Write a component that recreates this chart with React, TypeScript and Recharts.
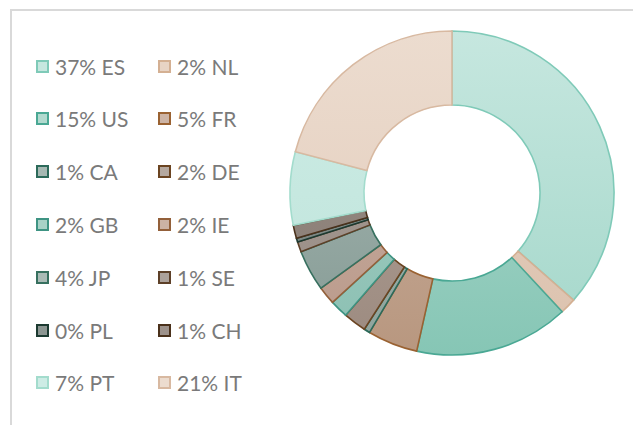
import { Cell, Pie, PieChart } from 'recharts';

const countries = ['ES', 'NL', 'US', 'FR', 'CA', 'DE', 'GB', 'IE', 'JP', 'SE', 'PL', 'CH', 'PT', 'IT'];
const shares = [36.5, 1.6, 15.4, 5.0, 0.6, 2.3, 1.8, 1.8, 4.1, 1.0, 0.4, 1.3, 7.3, 20.9];
const shareLabels = ['37%', '2%', '15%', '5%', '1%', '2%', '2%', '2%', '4%', '1%', '0%', '1%', '7%', '21%'];

// top / bottom tone of the vertical shading, and the outline colour
const topTones = [
  '#c6e7df', '#e8d4c5', '#b2dacf', '#cdb4a5', '#a6b9b3', '#b5a89f', '#a8d2c7',
  '#ccb3a5', '#aabbb6', '#aca29b', '#8c9692', '#9d928b', '#cdece5', '#ecdccf',
];
const bottomTones = [
  '#a4d7ca', '#dbc1ad', '#86c6b5', '#b8977f', '#8fa39c', '#9c8a7f', '#8bbfb2',
  '#b9998a', '#859a94', '#968a82', '#747f7b', '#857970', '#bfe4db', '#e2cbba',
];
const outlines = [
  '#7fcab8', '#d4b093', '#4aa894', '#9a6232', '#2c6a5a', '#6b4421', '#3e9483',
  '#93603a', '#37705f', '#5d4028', '#1c3a31', '#4a311b', '#a3dccd', '#d8b9a1',
];

const data = countries.map((c, i) => ({ name: c, value: shares[i] }));

export default function App() {
  return (
    <div
      style={{
        position: 'absolute',
        left: 0,
        top: 0,
        width: 633,
        height: 425,
        overflow: 'hidden',
        background: '#fff',
        fontFamily: 'Lato, sans-serif',
      }}
    >
      <div
        style={{
          position: 'absolute',
          left: 10,
          top: 9,
          width: 700,
          height: 500,
          border: '2px solid #d9d9d9',
        }}
      />
      {countries.map((c, i) => {
        const row = Math.floor(i / 2);
        const col = i % 2;
        return (
          <div
            key={c}
            style={{
              position: 'absolute',
              left: col === 0 ? 36 : 158,
              top: 53 + row * 52.8,
              height: 26,
              display: 'flex',
              alignItems: 'center',
              whiteSpace: 'nowrap',
            }}
          >
            <span
              style={{
                display: 'inline-block',
                width: 9,
                height: 9,
                background: topTones[i],
                border: `2px solid ${outlines[i]}`,
                marginRight: 6,
              }}
            />
            <span style={{ fontSize: 21, color: '#7a7a7a' }}>
              {shareLabels[i]} {c}
            </span>
          </div>
        );
      })}
      <PieChart width={633} height={425} margin={{ top: 0, right: 0, bottom: 0, left: 0 }} style={{ position: 'absolute', left: 0, top: 0 }}>
        <defs>
          {countries.map((c, i) => (
            <linearGradient key={c} id={`g${c}`} gradientUnits="userSpaceOnUse" x1={0} y1={31} x2={0} y2={355}>
              <stop offset="0%" stopColor={topTones[i]} />
              <stop offset="100%" stopColor={bottomTones[i]} />
            </linearGradient>
          ))}
        </defs>
        <Pie
          data={data}
          dataKey="value"
          nameKey="name"
          cx={452}
          cy={193}
          innerRadius={88}
          outerRadius={162}
          startAngle={90}
          endAngle={-270}
          paddingAngle={0}
          isAnimationActive={false}
        >
          {data.map((d, i) => (
            <Cell key={d.name} fill={`url(#g${d.name})`} stroke={outlines[i]} strokeWidth={1.6} />
          ))}
        </Pie>
      </PieChart>
    </div>
  );
}
